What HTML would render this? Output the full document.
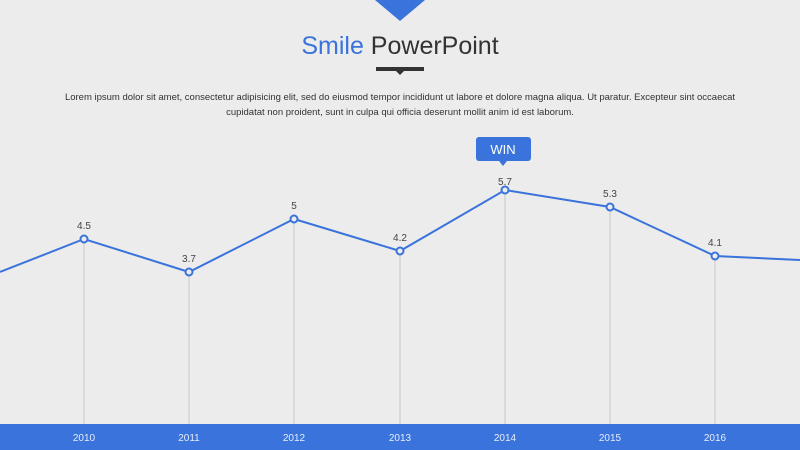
<!DOCTYPE html>
<html><head><style>
body{margin:0;width:800px;height:450px;background:#ececec;overflow:hidden;font-family:"Liberation Sans",sans-serif;position:relative}
.t{position:absolute;left:0;width:800px;text-align:center}
</style></head><body>
<svg width="800" height="450" style="position:absolute;left:0;top:0">
<polygon points="375,0 425,0 400,21" fill="#3a73db"/>
<rect x="376" y="67" width="48" height="4" fill="#333"/>
<polygon points="396,71 404,71 400,75" fill="#333"/>
<g stroke="#c8c8c8" stroke-width="1">
<line x1="84" y1="243" x2="84" y2="424"/><line x1="189" y1="276" x2="189" y2="424"/>
<line x1="294" y1="223" x2="294" y2="424"/><line x1="400" y1="255" x2="400" y2="424"/>
<line x1="505" y1="194" x2="505" y2="424"/><line x1="610" y1="211" x2="610" y2="424"/>
<line x1="715" y1="260" x2="715" y2="424"/></g>
<polyline points="0,272 84,239 189,272 294,219 400,251 505,190 610,207 715,256 800,260" fill="none" stroke="#3a73db" stroke-width="2"/>
<g fill="#ececec" stroke="#3a73db" stroke-width="2">
<circle cx="84" cy="239" r="3.5"/><circle cx="189" cy="272" r="3.5"/><circle cx="294" cy="219" r="3.5"/>
<circle cx="400" cy="251" r="3.5"/><circle cx="505" cy="190" r="3.5"/><circle cx="610" cy="207" r="3.5"/><circle cx="715" cy="256" r="3.5"/></g>
<g font-size="10" fill="#444" text-anchor="middle" font-family="Liberation Sans">
<text x="84" y="229">4.5</text><text x="189" y="262">3.7</text><text x="294" y="209">5</text>
<text x="400" y="241">4.2</text><text x="505" y="185">5.7</text><text x="610" y="197">5.3</text><text x="715" y="246">4.1</text></g>
<rect x="476" y="137" width="55" height="24" rx="3" fill="#3a73db"/>
<polygon points="499,161 507,161 503,166" fill="#3a73db"/>
<text x="503" y="154" font-size="13" fill="#fff" text-anchor="middle" font-family="Liberation Sans">WIN</text>
<rect x="0" y="424" width="800" height="26" fill="#3a73db"/>
<g font-size="10" fill="#e8eefa" text-anchor="middle" font-family="Liberation Sans">
<text x="84" y="441">2010</text><text x="189" y="441">2011</text><text x="294" y="441">2012</text><text x="400" y="441">2013</text>
<text x="505" y="441">2014</text><text x="610" y="441">2015</text><text x="715" y="441">2016</text></g>
</svg>
<div class="t" style="top:32px;font-size:25px;color:#333"><span style="color:#3a73db">Smile</span> PowerPoint</div>
<div class="t" style="top:90px;font-size:9.5px;line-height:15px;color:#333;padding:0 60px;box-sizing:border-box">Lorem ipsum dolor sit amet, consectetur adipisicing elit, sed do eiusmod tempor incididunt ut labore et dolore magna aliqua. Ut paratur. Excepteur sint occaecat cupidatat non proident, sunt in culpa qui officia deserunt mollit anim id est laborum.</div>
</body></html>
